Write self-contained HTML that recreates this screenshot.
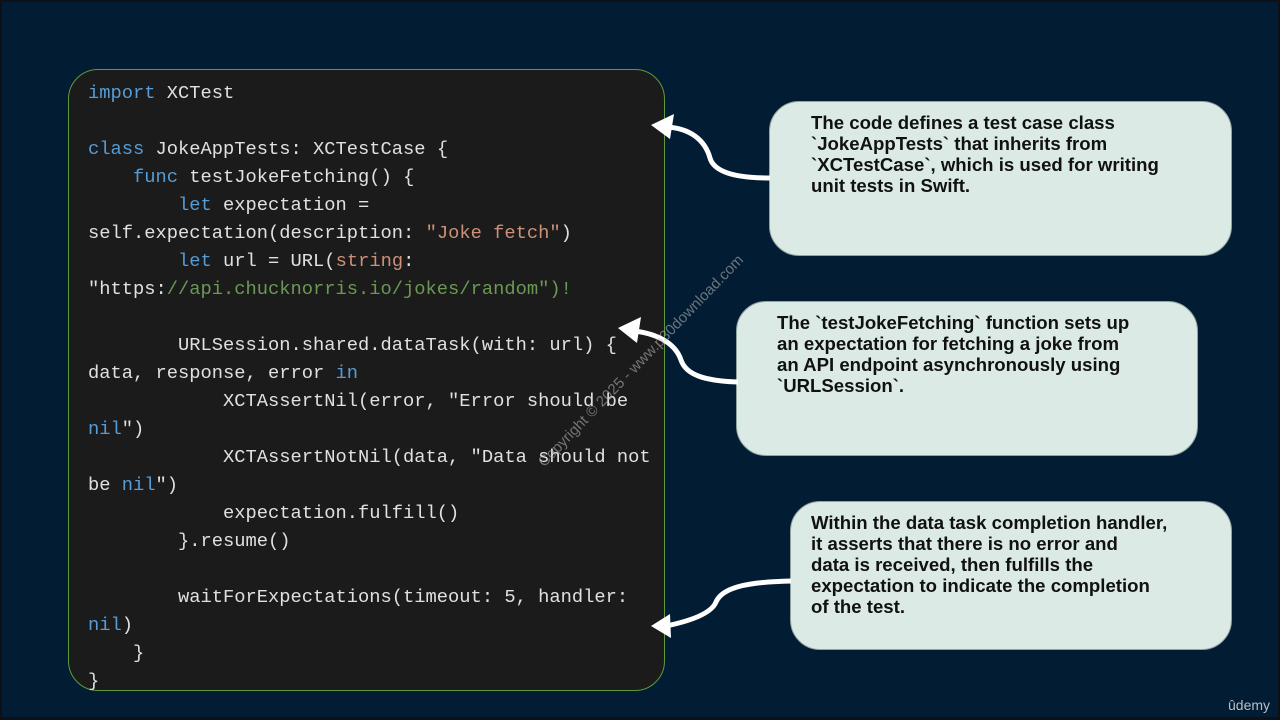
<!DOCTYPE html>
<html>
<head>
<meta charset="utf-8">
<style>
  html,body{margin:0;padding:0;}
  body{width:1280px;height:720px;overflow:hidden;background:#021d33;position:relative;font-family:"Liberation Sans",sans-serif;}
  .frame{position:absolute;left:0;top:0;width:1280px;height:720px;box-sizing:border-box;border:2px solid #0b1117;border-bottom-width:3px;}
  .code{position:absolute;left:68px;top:69px;width:597px;height:622px;box-sizing:border-box;background:#1b1b1b;border:1.5px solid #5e9a3c;border-radius:30px;}
  pre{position:absolute;left:88px;top:79px;margin:0;font-family:"Liberation Mono",monospace;font-size:18.75px;line-height:28px;color:#e0e0e0;}
  .k{color:#569cd6;}
  .s{color:#ce9178;}
  .g{color:#6a9955;}
  .box{position:absolute;box-sizing:border-box;background:#dbeae4;border:1.5px solid #8fa3a0;border-radius:30px;}
  .txt{position:absolute;font-family:"Liberation Sans",sans-serif;font-weight:bold;font-size:18.6px;line-height:21px;color:#111;white-space:pre;}
  .wm{position:absolute;left:641px;top:361px;transform:translate(-50%,-50%) rotate(-46deg);font-size:15px;color:rgba(190,190,190,0.55);white-space:nowrap;font-family:"Liberation Sans",sans-serif;}
  .udemy{position:absolute;left:1228px;top:697px;font-size:14px;color:#b8bec4;font-family:"Liberation Sans",sans-serif;}
</style>
</head>
<body>
<div class="code"></div>
<pre><span class="k">import</span> XCTest

<span class="k">class</span> JokeAppTests: XCTestCase {
    <span class="k">func</span> testJokeFetching() {
        <span class="k">let</span> expectation =
self.expectation(description: <span class="s">"Joke fetch"</span>)
        <span class="k">let</span> url = URL(<span class="s">string</span>:
"https:<span class="g">//api.chucknorris.io/jokes/random")!</span>

        URLSession.shared.dataTask(with: url) {
data, response, error <span class="k">in</span>
            XCTAssertNil(error, "Error should be
<span class="k">nil</span>")
            XCTAssertNotNil(data, "Data should not
be <span class="k">nil</span>")
            expectation.fulfill()
        }.resume()

        waitForExpectations(timeout: 5, handler:
<span class="k">nil</span>)
    }
}</pre>

<div class="box" style="left:769px;top:101px;width:463px;height:155px;"></div>
<div class="txt" style="left:811px;top:112px;">The code defines a test case class
`JokeAppTests` that inherits from
`XCTestCase`, which is used for writing
unit tests in Swift.</div>

<div class="box" style="left:736px;top:301px;width:462px;height:155px;"></div>
<div class="txt" style="left:777px;top:312px;">The `testJokeFetching` function sets up
an expectation for fetching a joke from
an API endpoint asynchronously using
`URLSession`.</div>

<div class="box" style="left:790px;top:501px;width:442px;height:149px;"></div>
<div class="txt" style="left:811px;top:512px;">Within the data task completion handler,
it asserts that there is no error and
data is received, then fulfills the
expectation to indicate the completion
of the test.</div>

<svg width="1280" height="720" style="position:absolute;left:0;top:0;" xmlns="http://www.w3.org/2000/svg">
  <g fill="none" stroke="#ffffff" stroke-width="5" stroke-linecap="butt">
    <path d="M 666 127 C 690 128, 705 140, 710 158 C 714 172, 735 178, 770 178"/>
    <path d="M 634 331 C 660 334, 676 345, 681 360 C 686 375, 705 381, 738 382"/>
    <path d="M 666 626 C 695 620, 712 612, 716 602 C 722 588, 745 582, 791 581"/>
  </g>
  <g fill="#ffffff">
    <polygon points="651,125 674,114 670,139"/>
    <polygon points="618,328 641,317 637,343"/>
    <polygon points="651,626 670,614 671,638"/>
  </g>
</svg>

<div class="wm">Copyright © 2025 - www.p30download.com</div>
<div class="udemy">ûdemy</div>
<div class="frame"></div>
</body>
</html>
